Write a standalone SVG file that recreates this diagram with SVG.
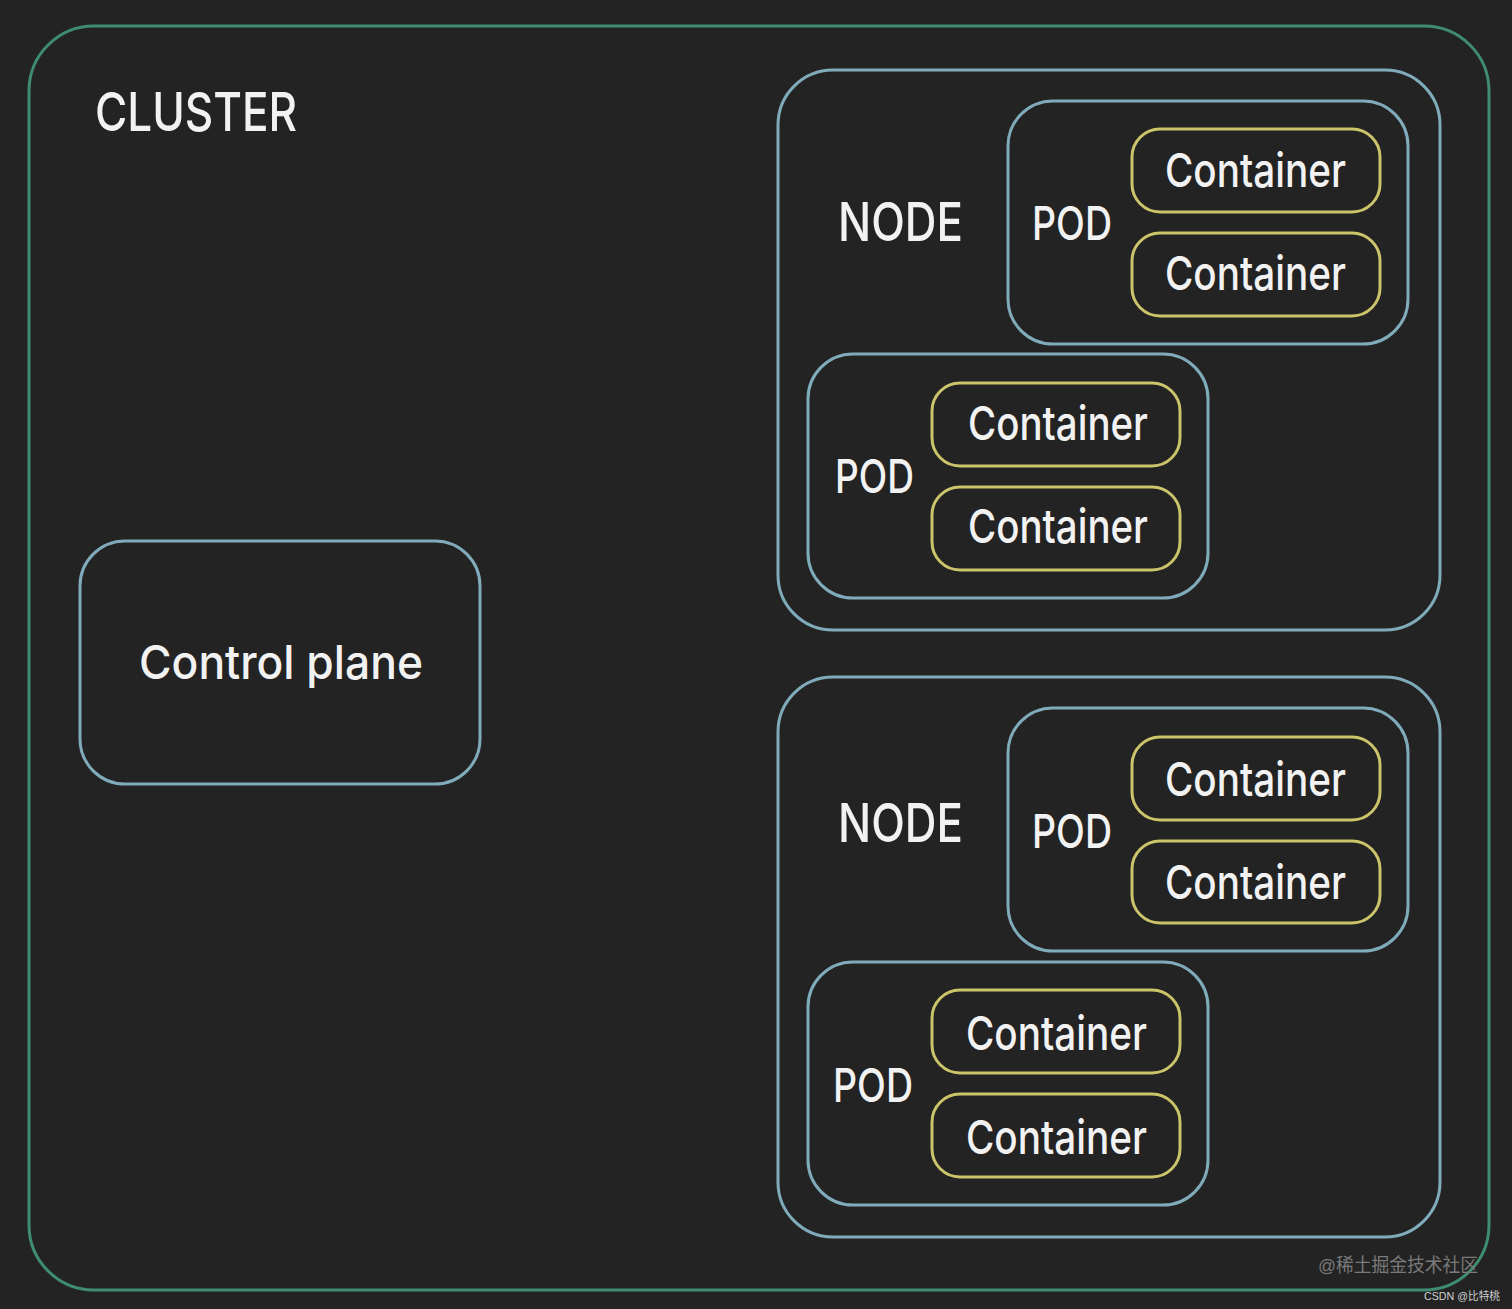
<svg xmlns="http://www.w3.org/2000/svg" width="1512" height="1309" viewBox="0 0 1512 1309">
<style>
.cl{fill:none;stroke:#3f8c70;stroke-width:3}
.bl{fill:none;stroke:#80abbb;stroke-width:3}
.yl{fill:none;stroke:#cbc46a;stroke-width:3}
text{font-family:Inter,"Liberation Sans","DejaVu Sans",sans-serif;font-weight:500;fill:#f2f2f2}
.big{font-size:54px}
.mid{font-size:47px}
</style>
<rect width="1512" height="1309" fill="#232323"/>
<g id="cluster">
<rect class="cl" x="29" y="26" width="1460" height="1264" rx="65"/>
<text class="big" x="95" y="131" textLength="202" lengthAdjust="spacingAndGlyphs">CLUSTER</text>
</g>
<g id="control-plane">
<rect class="bl" x="80" y="541" width="400" height="243" rx="45"/>
<text class="mid" x="139" y="679" textLength="284" lengthAdjust="spacingAndGlyphs">Control plane</text>
</g>
<g id="node1">
<rect class="bl" x="778" y="70" width="662" height="560" rx="55"/>
<text class="big" x="838" y="241" textLength="125" lengthAdjust="spacingAndGlyphs">NODE</text>
</g>
<g id="pod1">
<rect class="bl" x="1008" y="101" width="400" height="243" rx="45"/>
<text class="mid" x="1032" y="240" textLength="80" lengthAdjust="spacingAndGlyphs">POD</text>
</g>
<g id="container1"><rect class="yl" x="1132" y="129" width="248" height="83" rx="28"/><text class="mid" x="1165" y="187" textLength="181" lengthAdjust="spacingAndGlyphs">Container</text></g>
<g id="container2"><rect class="yl" x="1132" y="233" width="248" height="83" rx="28"/><text class="mid" x="1165" y="290" textLength="181" lengthAdjust="spacingAndGlyphs">Container</text></g>
<g id="pod2">
<rect class="bl" x="808" y="354" width="400" height="244" rx="45"/>
<text class="mid" x="835" y="493" textLength="79" lengthAdjust="spacingAndGlyphs">POD</text>
</g>
<g id="container3"><rect class="yl" x="932" y="383" width="248" height="83" rx="28"/><text class="mid" x="968" y="440" textLength="180" lengthAdjust="spacingAndGlyphs">Container</text></g>
<g id="container4"><rect class="yl" x="932" y="487" width="248" height="83" rx="28"/><text class="mid" x="968" y="543" textLength="180" lengthAdjust="spacingAndGlyphs">Container</text></g>
<g id="node2">
<rect class="bl" x="778" y="677" width="662" height="560" rx="55"/>
<text class="big" x="838" y="842" textLength="125" lengthAdjust="spacingAndGlyphs">NODE</text>
</g>
<g id="pod3">
<rect class="bl" x="1008" y="708" width="400" height="243" rx="45"/>
<text class="mid" x="1032" y="848" textLength="80" lengthAdjust="spacingAndGlyphs">POD</text>
</g>
<g id="container5"><rect class="yl" x="1132" y="737" width="248" height="83" rx="28"/><text class="mid" x="1165" y="796" textLength="181" lengthAdjust="spacingAndGlyphs">Container</text></g>
<g id="container6"><rect class="yl" x="1132" y="841" width="248" height="82" rx="28"/><text class="mid" x="1165" y="899" textLength="181" lengthAdjust="spacingAndGlyphs">Container</text></g>
<g id="pod4">
<rect class="bl" x="808" y="962" width="400" height="243" rx="45"/>
<text class="mid" x="833" y="1102" textLength="80" lengthAdjust="spacingAndGlyphs">POD</text>
</g>
<g id="container7"><rect class="yl" x="932" y="990" width="248" height="83" rx="28"/><text class="mid" x="966" y="1050" textLength="181" lengthAdjust="spacingAndGlyphs">Container</text></g>
<g id="container8"><rect class="yl" x="932" y="1094" width="248" height="83" rx="28"/><text class="mid" x="966" y="1154" textLength="181" lengthAdjust="spacingAndGlyphs">Container</text></g>
<g id="connectors"></g>
<text x="1318" y="1272" textLength="160" lengthAdjust="spacingAndGlyphs" style="font-family:'Liberation Sans','Noto Sans CJK SC',sans-serif;font-weight:400;font-size:19px;fill:#7a7a7a">@稀土掘金技术社区</text>
<text x="1424" y="1300" textLength="76" lengthAdjust="spacingAndGlyphs" style="font-family:'Liberation Sans','Noto Sans CJK SC',sans-serif;font-weight:400;font-size:11px;fill:#cfcfcf">CSDN @比特桃</text>
</svg>
